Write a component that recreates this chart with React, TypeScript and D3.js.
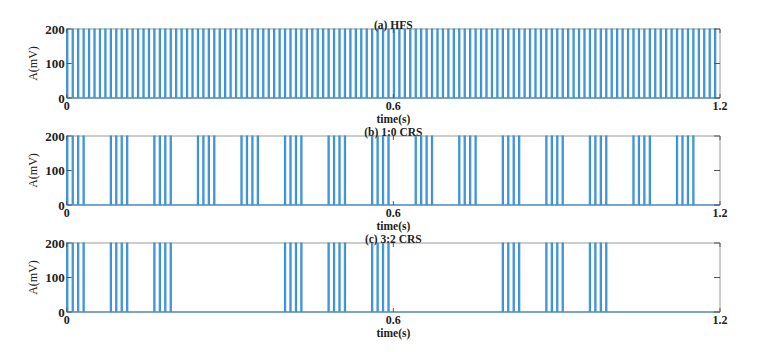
import React from "react";
import * as d3 from "d3";

// ---- data ----
const panelTitles = ["(a) HFS", "(b) 1:0 CRS", "(c) 3:2 CRS"];
// burst onset times (s)
const hfsOnsets = [0, 0.04, 0.08, 0.12, 0.16, 0.2, 0.24, 0.28, 0.32, 0.36, 0.4, 0.44, 0.48, 0.52, 0.56, 0.6, 0.64, 0.68, 0.72, 0.76, 0.8, 0.84, 0.88, 0.92, 0.96, 1.0, 1.04, 1.08, 1.12, 1.16];
const crs10Onsets = [0, 0.08, 0.16, 0.24, 0.32, 0.4, 0.48, 0.56, 0.64, 0.72, 0.8, 0.88, 0.96, 1.04, 1.12];
const crs32Onsets = [0, 0.08, 0.16, 0.4, 0.48, 0.56, 0.8, 0.88, 0.96];
// pulse offsets within a burst (s)
const pulseOffsets = [0, 0.01, 0.02, 0.03];
const pulseWidth = 0.0022; // s
const amplitude = 200; // mV
const xTicks = [0, 0.6, 1.2];
const xTickLabels = ["0", "0.6", "1.2"];
const yTicks = [0, 100, 200];
const series = [hfsOnsets, crs10Onsets, crs32Onsets];

const W = 760;
const H = 352;
const left = 66.7;
const right = 720;
const panelTops = [29, 136, 243];
const panelH = 69;
const font = "'Liberation Serif', 'Times New Roman', serif";

function Panel({ idx }: { idx: number }) {
  const top = panelTops[idx];
  const bottom = top + panelH;
  const x = d3.scaleLinear().domain([0, 1.2]).range([left, right]);
  const y = d3.scaleLinear().domain([0, 200]).range([bottom, top]);
  const pts: [number, number][] = [[0, 0]];
  series[idx].forEach((b) => {
    pulseOffsets.forEach((o) => {
      const t = b + o;
      pts.push([t, 0], [t, amplitude], [t + pulseWidth, amplitude], [t + pulseWidth, 0]);
    });
  });
  pts.push([1.2, 0]);
  const line = d3.line<[number, number]>().x((d) => x(d[0])).y((d) => y(d[1]));
  const area = d3
    .area<[number, number]>()
    .x((d) => x(d[0]))
    .y0(y(0))
    .y1((d) => y(d[1]));
  const tickColor = "#555";
  return (
    <g>
      {/* box */}
      <line x1={left} x2={right} y1={top} y2={top} stroke="#9a9a9a" strokeWidth={1} />
      <line x1={right} x2={right} y1={top} y2={bottom} stroke="#9a9a9a" strokeWidth={1} />
      <line x1={left} x2={left} y1={top} y2={bottom} stroke="#777" strokeWidth={1} />
      <line x1={left} x2={right} y1={bottom} y2={bottom} stroke="#777" strokeWidth={1} />
      {/* signal */}
      <path d={area(pts) || ""} fill="#a8d0ee" stroke="none" />
      <path d={line(pts) || ""} fill="none" stroke="#3a90d6" strokeWidth={1.1} />
      {/* ticks */}
      {yTicks.map((v) => (
        <g key={"y" + v}>
          <line x1={left} x2={left + 5} y1={y(v)} y2={y(v)} stroke={tickColor} />
          <line x1={right} x2={right - 6} y1={y(v)} y2={y(v)} stroke={tickColor} />
          <text
            x={left - 2}
            y={y(v) + 4.5}
            textAnchor="end"
            fontFamily={font}
            fontWeight="bold"
            fontSize={13}
            fill="#222"
          >
            {v}
          </text>
        </g>
      ))}
      {xTicks.map((v, i) => (
        <g key={"x" + v}>
          <line x1={x(v)} x2={x(v)} y1={bottom} y2={bottom - 4} stroke={tickColor} />
          <line x1={x(v)} x2={x(v)} y1={top} y2={top + 4} stroke={tickColor} />
          <text
            x={x(v)}
            y={bottom + 11.5}
            textAnchor="middle"
            fontFamily={font}
            fontWeight="bold"
            fontSize={12}
            fill="#222"
          >
            {xTickLabels[i]}
          </text>
        </g>
      ))}
      <text
        x={(left + right) / 2}
        y={bottom + 24.5}
        textAnchor="middle"
        fontFamily={font}
        fontWeight="bold"
        fontSize={11.5}
        fill="#222"
      >
        time(s)
      </text>
      <text
        x={(left + right) / 2}
        y={top - 0.5}
        textAnchor="middle"
        fontFamily={font}
        fontWeight="bold"
        fontSize={11.5}
        fill="#222"
      >
        {panelTitles[idx]}
      </text>
      <text
        transform={`translate(37,${(top + bottom) / 2}) rotate(-90)`}
        textAnchor="middle"
        fontFamily={font}
        fontSize={12}
        fill="#222"
      >
        A(mV)
      </text>
    </g>
  );
}

export default function App() {
  return (
    <svg
      width={W}
      height={H}
      style={{ position: "absolute", left: 0, top: 0, background: "#fff" }}
    >
      <rect width={W} height={H} fill="#fff" />
      {[0, 1, 2].map((i) => (
        <Panel key={i} idx={i} />
      ))}
    </svg>
  );
}
